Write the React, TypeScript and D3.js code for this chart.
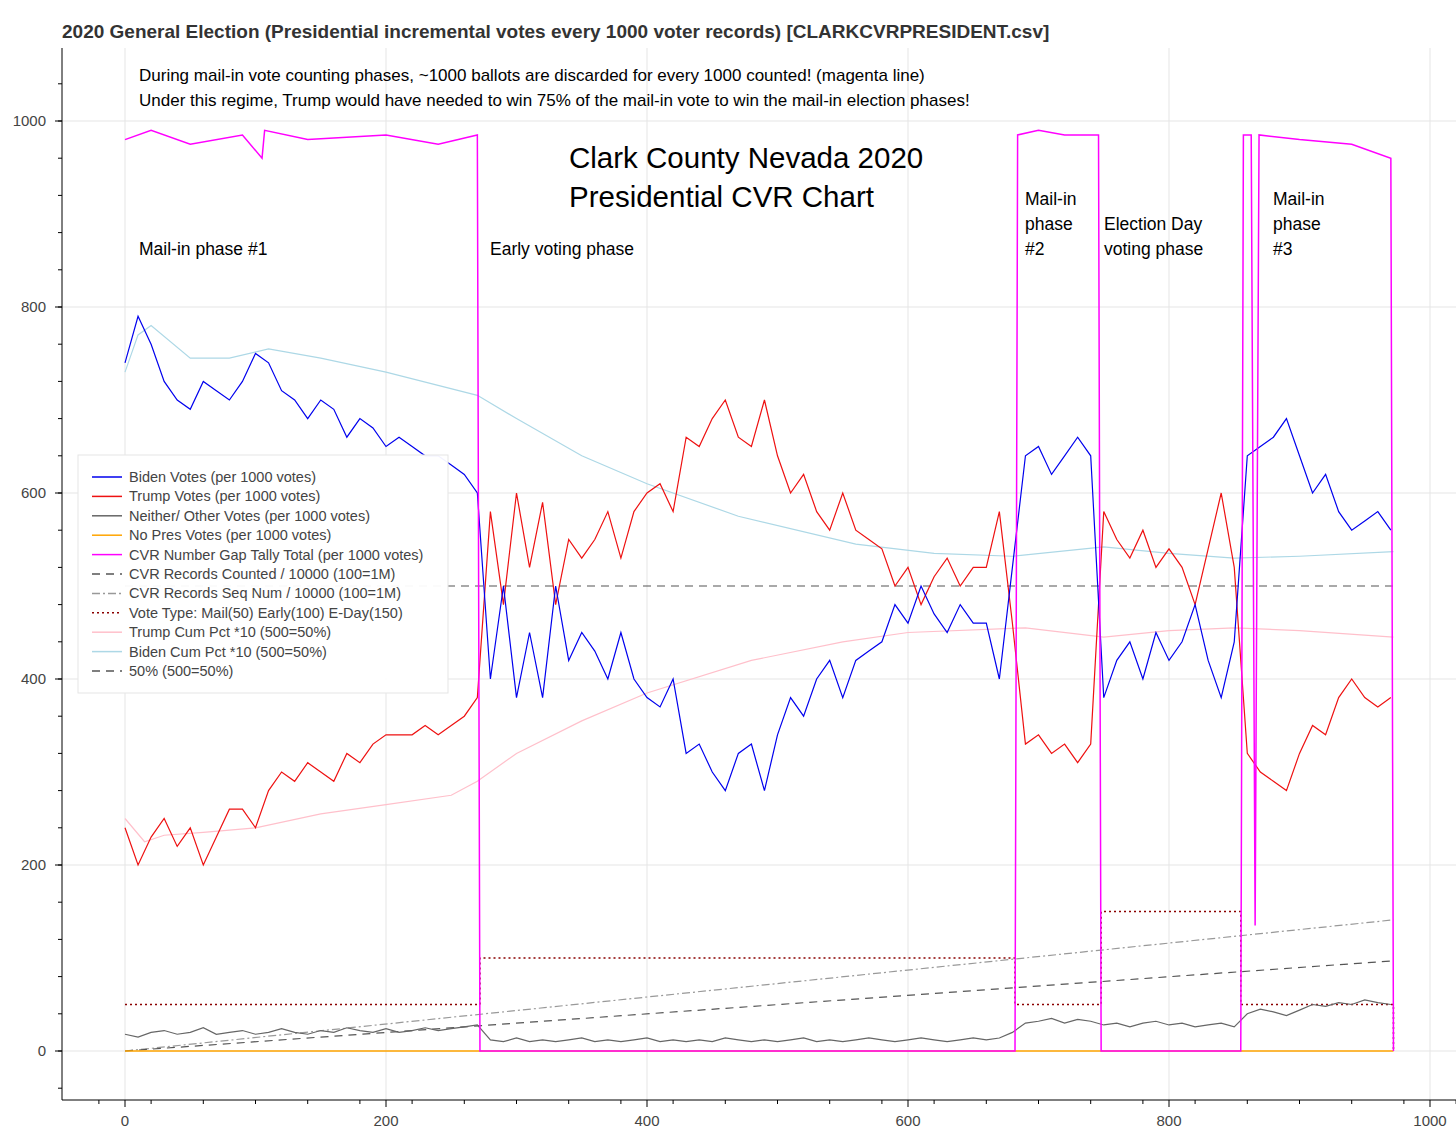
import * as d3 from "d3";

// values sampled every 10 records (0..970)
const bidenVotes = [
  740, 790, 760, 720, 700, 690, 720, 710, 700, 720, 750, 740, 710, 700, 680, 700, 690, 660, 680, 670,
  650, 660, 650, 640, 640, 630, 620, 600,
  400, 500, 380, 450, 380, 500, 420, 450, 430, 400, 450, 400, 380, 370, 400, 320, 330, 300, 280, 320,
  330, 280, 340, 380, 360, 400, 420, 380, 420, 430, 440, 480, 460, 500, 470, 450, 480, 460, 460, 400, 520,
  640, 650, 620, 640, 660, 640,
  380, 420, 440, 400, 450, 420, 440, 480, 420, 380, 440,
  640, 650, 660, 680, 640, 600, 620, 580, 560, 570, 580, 560,
];
const trumpVotes = [
  240, 200, 230, 250, 220, 240, 200, 230, 260, 260, 240, 280, 300, 290, 310, 300, 290, 320, 310, 330,
  340, 340, 340, 350, 340, 350, 360, 380,
  580, 480, 600, 520, 590, 480, 550, 530, 550, 580, 530, 580, 600, 610, 580, 660, 650, 680, 700, 660,
  650, 700, 640, 600, 620, 580, 560, 600, 560, 550, 540, 500, 520, 480, 510, 530, 500, 520, 520, 580, 460,
  330, 340, 320, 330, 310, 330,
  580, 550, 530, 560, 520, 540, 520, 480, 540, 600, 520,
  320, 300, 290, 280, 320, 350, 340, 380, 400, 380, 370, 380,
];
const otherVotes = [
  18, 15, 20, 22, 18, 20, 25, 18, 20, 22, 18, 20, 24, 20, 18, 22, 20, 25, 22, 20,
  24, 20, 22, 25, 22, 24, 26, 28,
  12, 10, 14, 10, 12, 10, 12, 14, 10, 12, 10, 12, 14, 10, 12, 10, 12, 10, 14, 12,
  10, 12, 10, 12, 14, 10, 12, 10, 12, 14, 12, 10, 12, 14, 12, 10, 12, 14, 12, 14, 20,
  30, 32, 35, 30, 34, 32,
  28, 30, 26, 30, 32, 28, 30, 26, 28, 30, 26,
  40, 45, 42, 38, 44, 50, 48, 52, 50, 55, 52, 50,
];
const gapTally: [number, number][] = [
  [0, 980], [20, 990], [50, 975], [90, 985], [105, 960], [107, 990], [140, 980], [200, 985], [240, 975], [270, 985],
  [272, 0], [682, 0], [684, 985], [700, 990], [720, 985], [746, 985], [748, 0], [855, 0],
  [857, 985], [863, 985], [866, 135], [869, 985], [900, 980], [940, 975], [970, 960], [972, 0],
];
const noPres: [number, number][] = [[0, 0], [972, 0]];
const countedRecs: [number, number][] = [[0, 0], [972, 97]];
const seqNum: [number, number][] = [[0, 0], [972, 141]];
const voteType: [number, number][] = [
  [0, 50], [272, 50], [272, 100], [682, 100], [682, 50], [748, 50], [748, 150], [855, 150], [855, 50], [972, 50], [972, 0],
];
const trumpCum: [number, number][] = [
  [0, 250], [15, 225], [30, 232], [60, 235], [100, 240], [150, 255], [200, 265], [250, 275], [270, 290],
  [300, 320], [350, 355], [400, 385], [480, 420], [550, 440], [600, 450], [690, 455], [750, 445], [800, 452],
  [850, 455], [900, 452], [972, 445],
];
const bidenCum: [number, number][] = [
  [0, 730], [10, 770], [20, 780], [50, 745], [80, 745], [110, 755], [150, 745], [200, 730], [270, 705],
  [300, 680], [350, 640], [400, 610], [470, 575], [560, 545], [620, 535], [680, 532], [750, 542], [800, 535],
  [850, 530], [900, 532], [972, 537],
];
const fifty: [number, number][] = [[0, 500], [972, 500]];

const legendItems = [
  { label: "Biden Votes (per 1000 votes)", color: "#0000ee", dash: "" },
  { label: "Trump Votes (per 1000 votes)", color: "#ee1111", dash: "" },
  { label: "Neither/ Other Votes (per 1000 votes)", color: "#666", dash: "" },
  { label: "No Pres Votes (per 1000 votes)", color: "orange", dash: "" },
  { label: "CVR Number Gap Tally Total (per 1000 votes)", color: "#ff00ff", dash: "" },
  { label: "CVR Records Counted / 10000 (100=1M)", color: "#555", dash: "8,6" },
  { label: "CVR Records Seq Num / 10000 (100=1M)", color: "#999", dash: "8,3,2,3" },
  { label: "Vote Type: Mail(50) Early(100) E-Day(150)", color: "#8b0000", dash: "2,3" },
  { label: "Trump Cum Pct *10 (500=50%)", color: "pink", dash: "" },
  { label: "Biden Cum Pct *10 (500=50%)", color: "lightblue", dash: "" },
  { label: "50% (500=50%)", color: "#555", dash: "8,6" },
];

const x = d3.scaleLinear().domain([0, 1000]).range([125, 1430]);
const y = d3.scaleLinear().domain([0, 1000]).range([1051, 121]);
const line = d3.line<[number, number]>().x((d) => x(d[0])).y((d) => y(d[1]));
const idx = (arr: number[]) => arr.map((v, i) => [i * 10, v] as [number, number]);

const Path = ({ data, color, dash = "", w = 1.2 }) => (
  <path d={line(data) ?? ""} fill="none" stroke={color} strokeWidth={w} strokeDasharray={dash} />
);

export default function App() {
  const font = "'Liberation Sans', Arial, sans-serif";
  const xTicks = d3.range(0, 1001, 200);
  const xMinor = d3.range(-100, 1041, 40);
  const yTicks = d3.range(0, 1001, 200);
  const yMinor = d3.range(-40, 1061, 40);
  return (
    <svg width={1456} height={1133} style={{ position: "absolute", left: 0, top: 0, background: "#fff" }} fontFamily={font}>
      <text x={62} y={38} fontSize={19} fontWeight="bold" fill="#333">
        2020 General Election (Presidential incremental votes every 1000 voter records) [CLARKCVRPRESIDENT.csv]
      </text>
      {xTicks.map((t) => <line key={"gx" + t} x1={x(t)} x2={x(t)} y1={48} y2={1100} stroke="#e5e5e5" />)}
      {yTicks.map((t) => <line key={"gy" + t} x1={62} x2={1456} y1={y(t)} y2={y(t)} stroke="#e5e5e5" />)}
      <line x1={62} x2={62} y1={48} y2={1100} stroke="#000" />
      <line x1={62} x2={1456} y1={1100} y2={1100} stroke="#000" />
      {xTicks.map((t) => (
        <g key={"xt" + t}>
          <line x1={x(t)} x2={x(t)} y1={1100} y2={1107} stroke="#000" />
          <text x={x(t)} y={1126} fontSize={15} textAnchor="middle" fill="#444">{t}</text>
        </g>
      ))}
      {xMinor.filter((t) => x(t) > 62).map((t) => <line key={"xm" + t} x1={x(t)} x2={x(t)} y1={1100} y2={1104} stroke="#000" />)}
      {yTicks.map((t) => (
        <g key={"yt" + t}>
          <line x1={55} x2={62} y1={y(t)} y2={y(t)} stroke="#000" />
          <text x={46} y={y(t) + 5} fontSize={15} textAnchor="end" fill="#444">{t}</text>
        </g>
      ))}
      {yMinor.filter((t) => y(t) > 48 && y(t) < 1100).map((t) => <line key={"ym" + t} x1={58} x2={62} y1={y(t)} y2={y(t)} stroke="#000" />)}

      <Path data={fifty} color="#555" dash="8,6" />
      <Path data={bidenCum} color="lightblue" />
      <Path data={trumpCum} color="pink" />
      <Path data={voteType} color="#8b0000" dash="2,3" w={1.5} />
      <Path data={seqNum} color="#999" dash="8,3,2,3" />
      <Path data={countedRecs} color="#555" dash="8,6" />
      <Path data={idx(otherVotes)} color="#666" />
      <Path data={noPres} color="orange" w={1.5} />
      <Path data={idx(trumpVotes)} color="#ee1111" />
      <Path data={idx(bidenVotes)} color="#0000ee" />
      <Path data={gapTally} color="#ff00ff" w={1.5} />

      <g fontSize={17} fill="#000">
        <text x={139} y={81}>During mail-in vote counting phases, ~1000 ballots are discarded for every 1000 counted! (magenta line)</text>
        <text x={139} y={106}>Under this regime, Trump would have needed to win 75% of the mail-in vote to win the mail-in election phases!</text>
        <text x={569} y={168} fontSize={29.5}>Clark County Nevada 2020</text>
        <text x={569} y={207} fontSize={29.5}>Presidential CVR Chart</text>
        <text x={139} y={255} fontSize={17.5}>Mail-in phase #1</text>
        <text x={490} y={255} fontSize={17.5}>Early voting phase</text>
        {["Mail-in", "phase", "#2"].map((s, i) => <text key={s} x={1025} y={205 + i * 25} fontSize={17.5}>{s}</text>)}
        {["Election Day", "voting phase"].map((s, i) => <text key={s} x={1104} y={230 + i * 25} fontSize={17.5}>{s}</text>)}
        {["Mail-in", "phase", "#3"].map((s, i) => <text key={s} x={1273} y={205 + i * 25} fontSize={17.5}>{s}</text>)}
      </g>

      <rect x={78} y={455} width={370} height={238} fill="#fff" fillOpacity={0.95} stroke="#e5e5e5" />
      {legendItems.map((d, i) => (
        <g key={d.label}>
          <line x1={92} x2={122} y1={477 + i * 19.4} y2={477 + i * 19.4} stroke={d.color} strokeWidth={1.5} strokeDasharray={d.dash} />
          <text x={129} y={482 + i * 19.4} fontSize={14.5} fill="#444">{d.label}</text>
        </g>
      ))}
    </svg>
  );
}
